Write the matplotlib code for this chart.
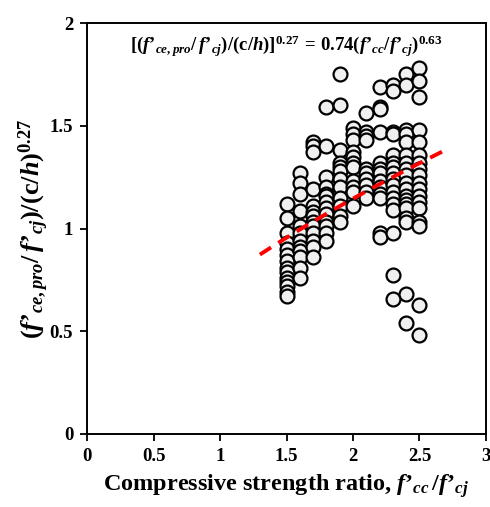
import numpy as np
import matplotlib
matplotlib.use("Agg")
import matplotlib.pyplot as plt

plt.rcParams['font.family'] = ['Liberation Serif', 'DejaVu Serif']
plt.rcParams['font.weight'] = 'bold'
plt.rcParams['mathtext.fontset'] = 'custom'
plt.rcParams['mathtext.rm'] = 'Liberation Serif:bold'
plt.rcParams['mathtext.bf'] = 'Liberation Serif:bold'
plt.rcParams['mathtext.it'] = 'Liberation Serif:italic:bold'

# strength ratio f'cc/f'cj -> normalised values
col_15 = [1.12, 1.05, 0.98, 0.93, 0.90, 0.87, 0.84, 0.81, 0.79, 0.76, 0.74, 0.72, 0.69, 0.67]
col_16 = [1.27, 1.22, 1.17, 1.085, 1.01, 0.98, 0.94, 0.91, 0.89, 0.86, 0.81, 0.76]
col_17 = [1.42, 1.40, 1.37, 1.19, 1.11, 1.08, 1.06, 1.03, 1.01, 0.98, 0.94, 0.91, 0.86]
col_18 = [1.59, 1.40, 1.25, 1.20, 1.17, 1.16, 1.13, 1.10, 1.07, 1.03, 1.01, 0.98, 0.94]
col_19 = [1.75, 1.60, 1.38, 1.32, 1.30, 1.28, 1.24, 1.20, 1.15, 1.11, 1.06, 1.03]
col_20 = [1.49, 1.46, 1.43, 1.37, 1.35, 1.32, 1.30, 1.23, 1.20, 1.18, 1.11]
col_21 = [1.56, 1.47, 1.45, 1.43, 1.29, 1.27, 1.24, 1.21, 1.18, 1.15]
col_22 = [1.69, 1.59, 1.58, 1.47, 1.32, 1.29, 1.27, 1.23, 1.20, 1.17, 1.15, 0.98, 0.96]
col_23 = [1.70, 1.67, 1.47, 1.46, 1.36, 1.32, 1.30, 1.27, 1.24, 1.21, 1.18, 1.15, 1.12,
          1.09, 0.98, 0.775, 0.655]
col_24 = [1.75, 1.70, 1.48, 1.46, 1.42, 1.36, 1.32, 1.29, 1.26, 1.22, 1.19, 1.16, 1.14,
          1.12, 1.10, 1.05, 1.03, 0.68, 0.54]
col_25 = [1.78, 1.72, 1.64, 1.48, 1.42, 1.36, 1.32, 1.29, 1.26, 1.22, 1.19, 1.16, 1.13,
          1.10, 1.03, 1.01, 0.63, 0.48]

ratios = [1.5, 1.6, 1.7, 1.8, 1.9, 2.0, 2.1, 2.2, 2.3, 2.4, 2.5]
columns = [col_15, col_16, col_17, col_18, col_19, col_20, col_21, col_22, col_23, col_24, col_25]

# fitted curve y = a * x^b
a, b = 0.74, 0.63
fit_x0, fit_x1 = 1.3, 2.68

xs = np.concatenate([[r] * len(c) for r, c in zip(ratios, columns)])
ys = np.concatenate(columns)

fig = plt.figure(figsize=(4.9, 5.07), dpi=100)
ax = fig.add_axes([0.1776, 0.144, 0.8142, 0.8106])

ax.plot(xs, ys, 'o', ms=10, mfc='#f0f0f0', mec='black', mew=1.6, ls='none', zorder=2)

fx = np.linspace(fit_x0, fit_x1, 100)
ax.plot(fx, a * fx ** b, '--', color='#ff0000', lw=2.8, dashes=(3.4, 2.2), zorder=3)

ax.set_xlim(0, 3)
ax.set_ylim(0, 2)
ax.set_xticks(np.arange(0, 3.01, 0.5))
ax.set_yticks(np.arange(0, 2.01, 0.5))
ax.set_xticklabels(['0', '0.5', '1', '1.5', '2', '2.5', '3'])
ax.set_yticklabels(['0', '0.5', '1', '1.5', '2'])
ax.tick_params(direction='out', length=5, width=1.3, labelsize=13.5, pad=5)
for s in ax.spines.values():
    s.set_linewidth(1.4)

P = '\u2019'  # apostrophe used as the prime in the original labels

ax.set_xlabel("Compressive strength ratio, $\\mathit{f" + P + "_{cc}\\,/f" + P + "_{cj}}$",
              fontsize=17.5, fontweight='bold', labelpad=5)
ax.set_ylabel("$\\mathbf{(}\\mathit{f" + P + "_{ce,pro}}\\mathbf{/}\\,\\mathit{f" + P + "_{cj}}"
              "\\mathbf{)/(c/}\\mathit{h}\\mathbf{)}^{\\mathbf{0.27}}$",
              fontsize=19, labelpad=-1)

ax.text(0.5, 0.975,
        "$\\mathbf{[(}\\mathit{f" + P + "_{ce,pro}}\\mathbf{/}\\,\\mathit{f" + P + "_{cj}}"
        "\\mathbf{)/(c/}\\mathit{h}\\mathbf{)]}^{\\mathbf{0.27}}\\mathbf{\\,=\\,0.74(}"
        "\\mathit{f" + P + "_{cc}/f" + P + "_{cj}}\\mathbf{)}^{\\mathbf{0.63}}$",
        transform=ax.transAxes, ha='center', va='top', fontsize=13.5)

fig.savefig('out.png', dpi=100)
